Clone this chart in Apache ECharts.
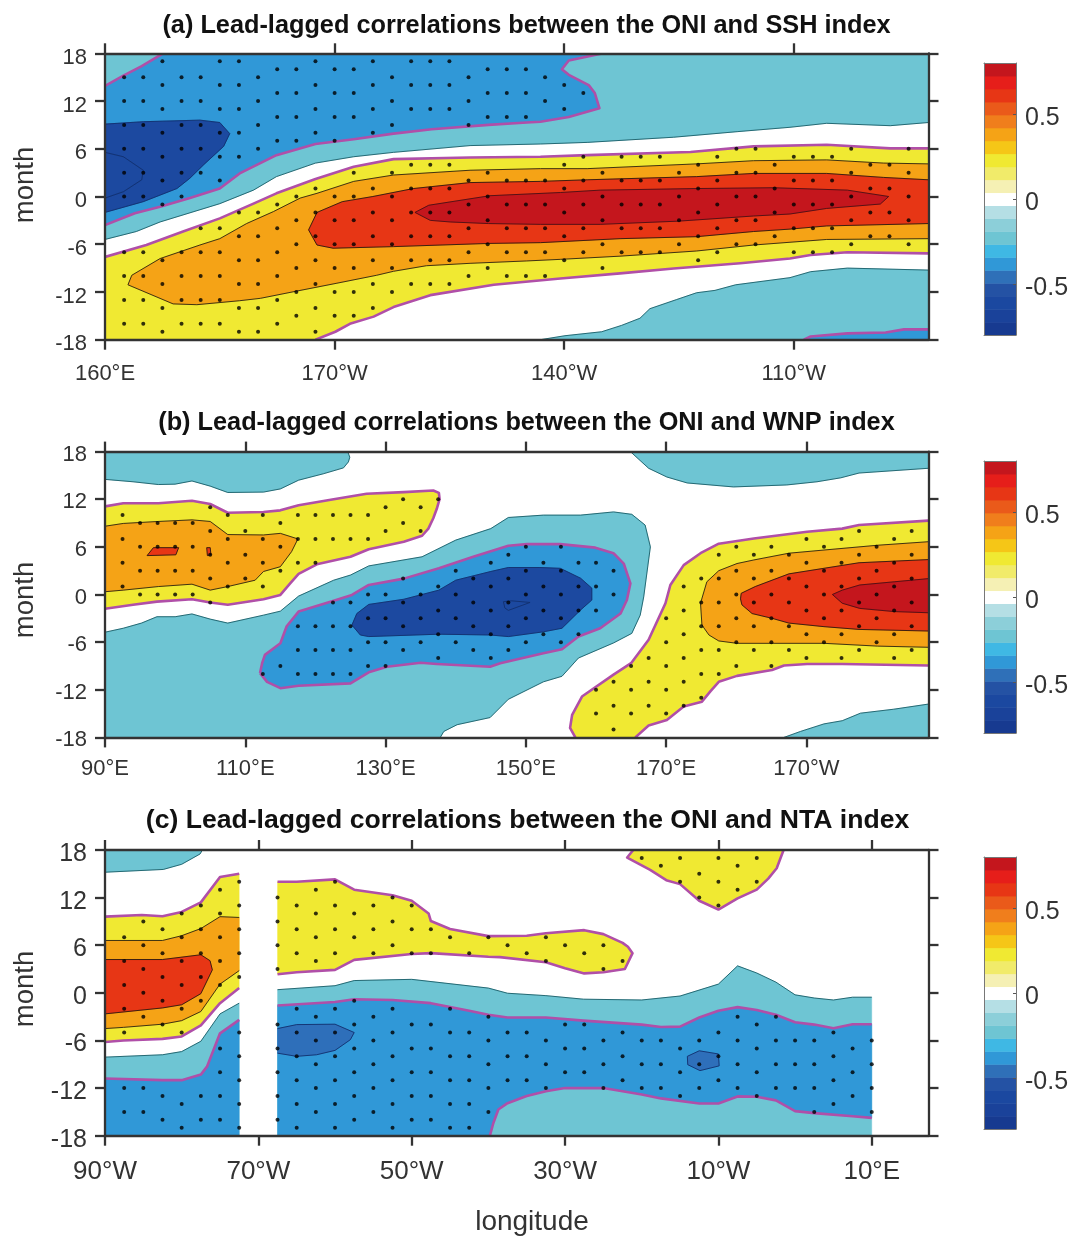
<!DOCTYPE html>
<html><head><meta charset="utf-8">
<style>html,body{margin:0;padding:0;background:#fff}#c{width:1072px;height:1236px}</style>
<script src="https://cdn.jsdelivr.net/npm/echarts@6/dist/echarts.min.js"></script>
</head><body><div id="c"></div>
<script>
// ---------- tick labels ----------
const monthTicks = [-18,-12,-6,0,6,12,18];
const lonTicksA = [160,190,220,250];
const lonLabelsA = ['160°E','170°W','140°W','110°W'];
const lonTicksB = [90,110,130,150,170,190];
const lonLabelsB = ['90°E','110°E','130°E','150°E','170°E','170°W'];
const lonTicksC = [-90,-70,-50,-30,-10,10];
const lonLabelsC = ['90°W','70°W','50°W','30°W','10°W','10°E'];
const colorbarTicks = [-0.5,0,0.5];
const titles = ['(a) Lead-lagged correlations between the ONI and SSH index','(b) Lead-lagged correlations between the ONI and WNP index','(c) Lead-lagged correlations between the ONI and NTA index'];
// contour levels of the colour bar (lower edge of each band)
const colorbarEdges = [-0.8,-0.724,-0.648,-0.571,-0.495,-0.419,-0.343,-0.267,-0.19,-0.114,-0.038,0.038,0.114,0.19,0.267,0.343,0.419,0.495,0.571,0.648,0.724,0.8];
const colorbarColors = ['#173a90','#1a429a','#1b48a0','#2452a4','#2f70b8','#3098d7','#3fb8e4','#6ec5d3','#8ccfd9','#b5dfe5','#ffffff','#f5f0b4','#f1eb6a','#f0e932','#f5c617','#f5a316','#f07e1c','#ea5a1a','#e73615','#e61e1a','#c4161d'];

// ---------- panel (a): contour outlines, [lon, month] ----------
const aTealTop = [[160,18],[267.6,18],[267.6,9.3],[262.6,8.9],[254.3,9.2],[249.5,8.7],[242.6,8.15],[234.3,7.45],[223,6.8],[216.9,6.6],[207.7,6.4],[197.7,5.55],[192.5,5],[187.5,4.2],[182.4,2.5],[179.4,0.8],[175,-0.9],[167.2,-3.2],[164.1,-4.4],[160,-5.4]];
const aTealBottom = [[216.9,-18],[220.1,-17.5],[224.9,-17],[227.5,-16.2],[229.9,-15.3],[231.2,-14.1],[234.7,-12.95],[237.3,-12.1],[239.7,-11.8],[242.4,-11.1],[249.5,-10.2],[252.2,-9.45],[257,-9],[267.6,-9.25],[267.6,-18]];
const aBlueBottom = [[251.3,-18],[252.2,-17.6],[257,-17.2],[262,-17.1],[264.4,-16.7],[267.6,-16.7],[267.6,-18]];
const aBlue = [[160,13.9],[162.4,15.2],[164.8,16.4],[167.6,18],[225.1,18],[220.6,17.1],[219.7,16],[220.6,15.3],[223.2,14],[224,13],[224.6,11.1],[220.6,10],[216.9,9.4],[215.1,9.3],[210.1,9],[202.7,8.45],[197.7,7.9],[192.5,7.2],[187.5,6.6],[182.4,5.2],[177.6,2.9],[175,1],[171.1,-0.2],[167.2,-1.3],[163.9,-2.1],[160,-3.6]];
const aDeep = [[160,9.1],[165,9.4],[172.4,9.6],[175,9.3],[176.3,7.9],[175.5,6.3],[172.9,4],[171.1,2.3],[169.4,1],[165,-0.65],[160,-2]];
const aDeeper = [[160,5.55],[162.4,5],[165,3.3],[164.8,2.1],[162.4,0.6],[160,-0.2]];
const aYellow = [[267.6,6.05],[262.6,6.05],[254.3,6.5],[244.75,6.3],[236.5,5.6],[223,5.2],[216.9,5],[207.7,4.9],[197.7,4.7],[192.5,3.75],[187.5,2.2],[182.4,0.4],[179.4,-0.9],[175,-2.75],[170.2,-4.4],[165.4,-6.1],[160,-7.6],[160,-18],[187.5,-18],[190.1,-17],[192,-16],[195.1,-15.1],[197.7,-13.9],[202.5,-12.4],[210.8,-11.1],[219.5,-10.3],[227.3,-9.66],[234.3,-9.05],[243,-8.4],[249.5,-7.8],[252.2,-7.35],[257,-7],[267.6,-7.15]];
const aOrange = [[267.6,4.1],[261.7,4.2],[254.3,4.6],[244.75,4.5],[237.3,4.1],[223,3.5],[216.9,3.5],[207.7,3.3],[197.7,2.7],[192.5,1.9],[187.7,0.4],[185.5,-0.2],[182,-1.9],[178.5,-3.4],[175,-5.3],[172.4,-6.1],[167.2,-7.8],[163.5,-9.9],[163,-11.1],[168.9,-13.5],[172,-13.6],[177.6,-13.1],[180.3,-12.8],[185,-11.9],[190.3,-10.9],[195.5,-9.9],[197.7,-9.4],[202,-8.7],[207.7,-8.4],[215.1,-8.1],[219.5,-7.9],[227.3,-7.5],[237.3,-6.85],[244.75,-6.1],[254.3,-5.4],[267.6,-5.3]];
const aRed = [[267.6,2.1],[261.7,2.4],[254.3,2.9],[244.75,2.9],[237.3,2.5],[223,2.1],[216.9,1.9],[207.7,1.75],[200.3,1],[195,0],[191,-0.65],[187.7,-2],[186.6,-4.2],[187.7,-6.1],[189.8,-6.5],[197.7,-6.3],[210.1,-5.9],[216.9,-5.8],[227.3,-5.3],[237.3,-5.05],[244.75,-4.4],[249.5,-4.1],[254.3,-3.7],[267.6,-3.4]];
const aDarkRed = [[200.5,-2],[202.3,-1.1],[210.3,0.1],[219.5,0.5],[224.7,0.8],[237.3,1],[247.4,1.1],[257,0.8],[262.4,0],[261.3,-0.95],[254.3,-1.5],[249.5,-2.2],[244.75,-2.45],[234.9,-3.1],[224.7,-3.5],[216.9,-3.5],[210.1,-3.4],[205.1,-3.2],[202.5,-3]];

// ---------- panel (b) ----------
const bTealTopLeft = [[90,18],[124.6,18],[124.9,17.3],[124.7,16.7],[124,15.95],[121.1,15.2],[117.6,14.4],[115,13.3],[112.6,12.9],[107.5,12.85],[105,13.65],[102.4,14.3],[100,13.9],[97.6,13.85],[94,14.2],[90,14.5]];
const bYellowLeft = [[90,11.1],[92.6,11.5],[97.6,11.5],[102.4,11.8],[105,11.4],[107.5,10.3],[112.6,10.4],[115,10.6],[117.6,11.25],[122.6,12],[127.3,12.7],[132.6,12.9],[136.8,13.1],[137.6,12.8],[137.7,12],[137.3,10.8],[136.8,9.6],[136.1,8.3],[135.2,7.4],[132.6,6.65],[127.6,5.7],[125,4.75],[120.2,3.8],[117.6,2.6],[116.4,1.4],[115,-0.05],[112.6,-0.6],[107.5,-1.3],[105,-1],[102.4,-0.6],[97.4,-0.9],[94,-1.3],[90,-1.8]];
const bOrangeLeft = [[90,8.6],[92.6,8.95],[97.6,9.2],[102.4,9.4],[105,9.2],[107.5,7.55],[112.6,7.5],[115,7.7],[117.5,7],[116.6,5.4],[115,3.5],[112.6,2.9],[111.4,1.8],[107.5,1],[105,0.55],[102.4,1.3],[97.6,1],[92.6,0.55],[90,0.35]];
const bRedSmall1 = [[96,4.9],[96.9,5.9],[100.5,5.9],[100.1,5]];
const bRedSmall2 = [[104.5,5.9],[105,5.9],[105.1,5],[104.6,4.9]];
const bTealMid = [[90,-4.75],[92.6,-4.25],[95.2,-3.6],[97.4,-2.8],[100,-2.8],[102.4,-2.45],[105,-3.1],[107.5,-3.6],[112.6,-2.6],[115,-2.1],[117.6,-0.2],[122.6,1.8],[125,2.45],[127.6,3.6],[135.2,4.75],[140,6.85],[145,8.3],[147.5,9.7],[152.5,10],[157.8,10],[162.5,10.4],[165.1,10.1],[167,8.75],[167.75,6],[166.8,-0.3],[166.3,-2.6],[165.1,-4.9],[162.5,-6.1],[157.5,-8],[155.15,-10.3],[152.5,-11],[147.5,-13.2],[144.9,-15.5],[140.2,-16.4],[138.3,-17.25],[137.8,-18],[90,-18]];
const bBlue = [[112.1,-9.9],[112.4,-8.65],[112.8,-7.6],[115,-6.15],[115.9,-4],[117.6,-2.15],[122.6,-0.8],[125.2,-0.05],[127.6,1.2],[132.6,2],[137.6,3.3],[142.5,4.75],[147.5,6.15],[150.15,6.35],[154.9,6.35],[159.9,5.9],[162.5,5.2],[163.95,3.9],[164.9,1.4],[164.4,-0.7],[163.5,-2.4],[160.6,-4.25],[157.5,-5.3],[155.15,-6.9],[152.5,-7.4],[146.35,-8.65],[144.9,-9.1],[137.3,-8.75],[135,-8.6],[130.2,-9.1],[127.6,-9.8],[125,-11.2],[117.6,-11.5],[115,-11.8],[113.1,-11]];
const bDeep = [[125.2,-3.85],[125.9,-2.4],[127.6,-1.25],[132.6,-0.6],[137.6,0.55],[140,1.8],[145,2.9],[147.5,3.4],[152,3.4],[154.9,3.3],[157.8,2.05],[159.4,0.8],[159.4,-0.7],[157.8,-1.95],[155.15,-4.25],[152.5,-4.7],[147.5,-5.3],[144.9,-5.1],[137.6,-5],[127.6,-5.3],[126.4,-5.1]];
const bDeeper = [[146.8,-0.9],[148,-0.8],[150.6,-1],[147.5,-2],[147,-1.7]];
const bTealTopRight = [[164.9,18],[167.5,15.9],[170.1,14.8],[173,14.05],[179.6,13.55],[187.2,13.8],[191.5,14.2],[194.9,14.7],[197.5,15.3],[207.4,15.9],[207.4,18]];
const bYellowRight = [[157.05,-18],[156.3,-16.8],[156.6,-15.15],[158,-12.85],[162.5,-10.1],[165,-8.65],[167.5,-5.7],[169.9,-1.1],[170.6,1.2],[172.5,3.7],[174.9,5.2],[177.5,6.4],[182.5,7.05],[190.1,7.9],[195.1,8.3],[197.5,8.75],[207.4,9.3],[207.4,-8.95],[195.1,-8.75],[190.1,-8.75],[186.8,-8.95],[185.1,-9.5],[180.1,-10.25],[177.5,-11],[176.3,-12.2],[175.1,-13.5],[172.5,-14.1],[170.1,-15.8],[167.5,-16.5],[165.6,-18]];
const bOrangeRight = [[177.5,3],[175.8,1.6],[174.9,-1.1],[175.1,-3.85],[176.1,-5.1],[177.5,-5.85],[180.1,-6.15],[192.5,-6.15],[200.1,-6.5],[207.4,-6.65],[207.4,6.65],[200.1,6.2],[192.5,5.6],[187.5,5.2],[182.5,4.35],[180.1,3.9]];
const bRedRight = [[180.6,-0.55],[180.7,0.15],[182.7,1],[187.5,2.6],[192.5,3.3],[197.5,4],[207.4,4.4],[207.4,-4.6],[197.5,-4.4],[192.5,-4.05],[187.5,-3.6],[185.1,-3],[182.25,-2.4],[180.8,-1.3]];
const bDarkRedRight = [[193.7,0],[195.1,0.55],[197.6,1.2],[202.5,1.6],[207.4,2],[207.4,-2.3],[202.5,-2.15],[197.6,-1.75],[195.1,-1.1]];
const bTealBottomRight = [[186.8,-18],[189.15,-17.25],[192.5,-16.3],[195.1,-15.9],[197.7,-14.95],[202.45,-14.45],[207.4,-13.8],[207.4,-18]];

// ---------- panel (c) ----------
const cTealTop = [[-90,18],[-77.3,18],[-77.6,17.5],[-80,16.2],[-82.4,15.55],[-90,15.2]];
const cYellowLeft = [[-90,9.6],[-85.2,9.8],[-82.5,9.65],[-80,10.2],[-77.5,11.4],[-75,14.6],[-72.5,15],[-72.5,0.6],[-75,-1.3],[-77.5,-4.1],[-80,-5.5],[-82.5,-5.8],[-87.6,-6],[-90,-6.2]];
const cOrangeLeft = [[-90,6.6],[-82.5,6.6],[-80,7.2],[-77.5,8.1],[-75,9.6],[-72.5,9.5],[-72.5,2.8],[-75,1.1],[-77.5,-2.35],[-80,-3.5],[-82.5,-3.95],[-87.6,-4.35],[-90,-4.5]];
const cRedLeft = [[-90,4.2],[-87.6,4.2],[-82.5,4.2],[-77.5,4.8],[-76.3,4.05],[-76,2.9],[-77.5,-0.1],[-80,-1.5],[-82.5,-1.9],[-90,-2.65]];
const cTealLeft = [[-90,-8.1],[-82.5,-7.8],[-80,-7.4],[-77.5,-6.1],[-75,-2.65],[-72.5,-1.3],[-72.5,-18],[-90,-18]];
const cBlueLeft = [[-90,-10.8],[-82.5,-11],[-80,-11],[-77.5,-10.3],[-76.7,-9.3],[-75,-5.1],[-72.5,-3.4],[-72.5,-18],[-90,-18]];
const cYellowMid = [[-67.5,14],[-65,14],[-60,14.3],[-57.5,13],[-52.5,12.3],[-50,11.6],[-47.8,10],[-47.5,9.05],[-45,8.05],[-40,7.15],[-35,7.2],[-32.5,7.5],[-27.5,7.9],[-25,7.4],[-22.5,6.3],[-21.8,5.8],[-21.2,5],[-22.2,3],[-25,2.6],[-27.5,2.45],[-30,3.1],[-32.5,3.85],[-38.5,4.5],[-40,4.55],[-47.5,5],[-50,4.9],[-57.5,4.15],[-60,2.9],[-65,2.6],[-67.5,2.35]];
const cTealRight = [[-67.5,0.4],[-60,0.9],[-57.5,1.55],[-50,1.7],[-40,0.6],[-37.5,-0.05],[-32.5,-0.35],[-27.6,-0.8],[-20,-0.9],[-15,-0.4],[-10,1.1],[-7.5,3.4],[-5,2.5],[-2.5,1.35],[0,-0.25],[2.5,-0.65],[5,-0.9],[7.5,-0.55],[10,-0.55],[10,-18],[-67.5,-18]];
const cBlueRight = [[-67.5,-1.6],[-60,-1.15],[-57.5,-0.8],[-52.5,-0.9],[-47.5,-1.3],[-42.5,-2.25],[-40,-2.75],[-37.5,-3.1],[-32.5,-3.1],[-27.6,-3.5],[-20,-4],[-17.5,-4.3],[-15,-4.25],[-12.5,-3.1],[-10,-2.25],[-7.5,-1.8],[-5,-2.15],[-2.5,-2.75],[0,-3.7],[2.5,-4],[5,-4.45],[7.5,-3.95],[10,-3.95],[10,-15.75],[7.5,-15.55],[2.5,-15.15],[0,-14.9],[-2.5,-13.55],[-5,-13.1],[-7.5,-13.05],[-10,-13.95],[-12.5,-13.95],[-17.5,-13.3],[-20,-12.8],[-25,-12],[-27.6,-12],[-30,-12],[-32.5,-12.4],[-35,-13],[-37.5,-13.9],[-38.7,-14.7],[-39.35,-16.4],[-39.8,-18],[-67.5,-18]];
const cMidBlue1 = [[-67.5,-4.5],[-65,-4],[-60,-3.95],[-57.5,-5],[-58,-5.9],[-60,-7.25],[-62.4,-7.8],[-65,-8],[-67.5,-7.6]];
const cMidBlue2 = [[-14.05,-8],[-12.5,-7.3],[-10,-7.7],[-9.9,-9.2],[-12.4,-9.8],[-14,-9.05]];
const cYellowTop = [[-21.1,18],[-21.9,17.05],[-18.9,15.5],[-16.8,14.2],[-15,13.7],[-12.5,11.6],[-10,10.5],[-7.5,11.9],[-5,13],[-3.5,14.4],[-2.4,15.7],[-1.5,18]];

// ---------- significance stippling: [lon, [months]] ----------
const stippleA = [[162.5,[15,12,9,6,3,0,-7,-10,-13,-16]],[165,[15,12,9,6,3,0,-7,-10,-13,-16]],[167.5,[17,14,11,8,5,2,-1,-8,-11,-14,-17]],[170,[15,12,9,6,3,0,-7,-10,-13,-16]],[172.5,[15,12,9,6,3,-4,-7,-10,-13,-16]],[175,[17,14,11,8,5,2,-4,-7,-10,-13,-16]],[177.5,[17,14,11,8,5,-2,-5,-8,-11,-14,-17]],[180,[15,12,9,6,-2,-5,-8,-11,-14,-17]],[182.5,[16,13,10,7,-1,-4,-7,-10,-13,-16]],[185,[16,13,10,7,0,-3,-6,-9,-12,-15]],[187.5,[17,14,11,8,1,-2,-5,-8,-11,-14,-17]],[190,[16,13,10,7,0,-3,-6,-9,-12,-15]],[192.5,[16,13,10,3,0,-3,-6,-9,-12,-15]],[195,[17,14,11,8,1,-2,-5,-8,-11,-14]],[197.5,[15,12,9,3,0,-3,-6,-9,-12]],[200,[17,14,11,4,1,-2,-5,-8,-11]],[202.5,[17,14,11,4,1,-2,-5,-8,-11]],[205,[17,14,11,4,1,-2,-5,-8,-11]],[207.5,[15,12,9,2,-1,-4,-7,-10]],[210,[16,13,10,3,0,-3,-6,-9]],[212.5,[16,13,10,2,-1,-4,-7,-10]],[215,[16,13,10,2,-1,-4,-7,-10]],[217.5,[15,12,2,-1,-4,-7,-10]],[220,[14,11,4,1,-2,-5,-8]],[222.5,[13,5,2,-1,-4,-7]],[225,[3,0,-3,-6,-9]],[227.5,[5,2,-1,-4,-7]],[230,[5,2,-1,-4,-7]],[232.5,[5,2,-1,-4,-7]],[235,[3,0,-3,-6]],[237.5,[4,1,-2,-5,-8]],[240,[5,2,-1,-4,-7]],[242.5,[6,3,0,-3,-6]],[245,[6,3,0,-3,-6]],[247.5,[4,1,-2,-5]],[250,[5,2,-1,-4,-7]],[252.5,[5,2,-1,-4,-7]],[255,[5,2,-1,-4,-7]],[257.5,[6,3,0,-3,-6]],[260,[4,1,-2,-5]],[262.5,[4,1,-2,-5]],[265,[6,3,0,-3,-6]]];
const stippleB = [[92.5,[10,7,4,1]],[95,[9,6,3,0]],[97.5,[9,6,3,0]],[100,[9,6,3,0]],[102.5,[9,6,3,0]],[105,[11,8,5,2,-1]],[107.5,[10,7,4,1]],[110,[8,5,2]],[112.5,[10,7,4,1,-10]],[115,[9,6,3,-9]],[117.5,[10,7,4,-4,-7,-10]],[120,[10,7,4,-4,-7,-10]],[122.5,[10,7,-1,-4,-7,-10]],[125,[10,7,-1,-4,-7,-10]],[127.5,[10,7,0,-3,-6,-9]],[130,[11,8,0,-3,-6,-9]],[132.5,[12,9,2,-1,-4,-7]],[135,[11,8,0,-3,-6]],[137.5,[12,1,-2,-5,-8]],[140,[3,0,-3,-6]],[142.5,[2,-1,-4,-7]],[145,[4,1,-2,-5,-8]],[147.5,[5,2,-1,-4,-7]],[150,[6,3,0,-3,-6]],[152.5,[4,1,-2,-5]],[155,[6,3,0,-3,-6]],[157.5,[4,1,-2,-5]],[160,[4,1,-2,-12,-15]],[162.5,[3,0,-11,-14,-17]],[165,[-9,-12,-15]],[167.5,[-8,-11,-14]],[170,[-3,-6,-9,-12,-15]],[172.5,[1,-2,-5,-8,-11,-14]],[175,[2,-1,-4,-7,-10,-13]],[177.5,[5,2,-1,-4,-7,-10]],[180,[6,3,0,-3,-6,-9]],[182.5,[5,2,-1,-4,-7]],[185,[6,3,0,-3,-6,-9]],[187.5,[5,2,-1,-4,-7]],[190,[7,4,1,-2,-5,-8]],[192.5,[6,3,0,-3,-6]],[195,[7,4,1,-2,-5,-8]],[197.5,[8,5,2,-1,-4,-7]],[200,[6,3,0,-3,-6]],[202.5,[7,4,1,-2,-5,-8]],[205,[8,5,2,-1,-4,-7]]];
const stippleC = [[-87.5,[7,4,1,-2,-5,-12,-15]],[-85,[9,6,3,0,-3,-12,-15]],[-82.5,[8,5,2,-1,-4,-13,-16]],[-80,[10,7,4,1,-2,-5,-14,-17]],[-77.5,[11,8,5,2,-1,-13,-16]],[-75,[13,10,7,4,1,-7,-10,-13,-16]],[-72.5,[14,11,8,5,2,-5,-8,-11,-14,-17]],[-67.5,[12,9,6,3,-4,-7,-10,-13,-16]],[-65,[11,8,5,-2,-5,-8,-11,-14,-17]],[-62.5,[13,10,7,4,-3,-6,-9,-12,-15]],[-60,[14,11,8,5,-2,-5,-8,-11,-14,-17]],[-57.5,[10,7,-1,-4,-7,-10,-13,-16]],[-55,[11,8,5,-3,-6,-9,-12,-15]],[-52.5,[12,9,6,-2,-5,-8,-11,-14,-17]],[-50,[11,8,5,-4,-7,-10,-13,-16]],[-47.5,[8,5,-4,-7,-10,-13,-16]],[-45,[7,-2,-5,-8,-11,-14,-17]],[-42.5,[5,-5,-8,-11,-14,-17]],[-40,[7,-3,-6,-9,-12,-15]],[-37.5,[6,-5,-8,-11]],[-35,[5,-5,-8,-11]],[-32.5,[7,4,-6,-9,-12]],[-30,[6,-4,-7,-10]],[-27.5,[5,-4,-7,-10]],[-25,[6,3,-6,-9,-12]],[-22.5,[4,-5,-8,-11]],[-20,[17,-6,-9,-12]],[-17.5,[16,-6,-9,-12]],[-15,[17,14,-7,-10,-13]],[-12.5,[15,12,-6,-9,-12]],[-10,[17,14,11,-5,-8,-11]],[-7.5,[16,13,-3,-6,-9,-12]],[-5,[17,14,-4,-7,-10,-13]],[-2.5,[-3,-6,-9,-12]],[0,[-6,-9,-12]],[2.5,[-6,-9,-12,-15]],[5,[-5,-8,-11,-14]],[7.5,[-7,-10,-13]],[10,[-6,-9,-12,-15]]];

// ---------- styling (kept apart from the data) ----------
const FILL = {teal:'#6ec5d3',blue:'#3098d7',mid:'#2e6fba',deep:'#1c49a0',yellow:'#f0e932',orange:'#f5a316',red:'#e73615',dark:'#c4161d'};
const THIN_BY_FILL = {teal:'#175c66',mid:'#12306e',deep:'#12306e',orange:'#2a2410',red:'#2a1a10',dark:'#4a1015'};
const PURPLE = '#b04fa8', INK = '#333333';
const FONT = '"Liberation Sans", Arial, sans-serif';

const panels = [
 {top:53.3,h:286.4,xmin:160,xmax:267.6,ticks:lonTicksA,labels:lonLabelsA,labelSize:22,labelMargin:23,ySize:22,yLine:9,cbTop:63,monthY:185,title:titles[0],titleTop:8.5,titleSize:25.3,titleX:521.5,stipple:stippleA,cuts:[],
  layers:[[aTealTop,'teal',0],[aTealBottom,'teal',0],[aBlueBottom,'blue',1],[aBlue,'blue',1],[aDeep,'deep',0],[aDeeper,'deep',0],[aYellow,'yellow',1],[aOrange,'orange',0],[aRed,'red',0],[aDarkRed,'dark',0]]},
 {top:451.6,h:285.8,xmin:90,xmax:207.4,ticks:lonTicksB,labels:lonLabelsB,labelSize:22,labelMargin:21,ySize:22,yLine:6,cbTop:461,monthY:600,title:titles[1],titleTop:405.4,titleSize:25.3,titleX:521.5,stipple:stippleB,cuts:[],
  layers:[[bTealTopLeft,'teal',0],[bTealMid,'teal',0],[bTealTopRight,'teal',0],[bTealBottomRight,'teal',0],[bBlue,'blue',1],[bDeep,'deep',0],[bDeeper,'deep',0],[bYellowLeft,'yellow',1],[bOrangeLeft,'orange',0],[bRedSmall1,'red',0],[bRedSmall2,'red',0],[bYellowRight,'yellow',1],[bOrangeRight,'orange',0],[bRedRight,'red',0],[bDarkRedRight,'dark',0]]},
 {top:850,h:285.7,xmin:-90,xmax:17.4,ticks:lonTicksC,labels:lonLabelsC,labelSize:26,labelMargin:23,ySize:25,yLine:8,cbTop:857,monthY:989,title:titles[2],titleTop:801.7,titleSize:26.6,titleX:522.5,stipple:stippleC,cuts:[-72.5,-67.5,10],
  layers:[[cTealTop,'teal',0],[cTealLeft,'teal',0],[cBlueLeft,'blue',1],[cYellowLeft,'yellow',1],[cOrangeLeft,'orange',0],[cRedLeft,'red',0],[cTealRight,'teal',0],[cBlueRight,'blue',1],[cMidBlue1,'mid',0],[cMidBlue2,'mid',0],[cYellowMid,'yellow',1],[cYellowTop,'yellow',1]]}
];

const LEFT = 105, WIDTH = 823.5;
const grid=[], xAxis=[], yAxis=[], series=[], title=[], graphic=[];
const axisCommon = {z:6, axisLine:{show:true,onZero:false,lineStyle:{color:INK,width:2.3}}, axisTick:{show:true,inside:false,length:10,lineStyle:{color:INK,width:2.3}}, splitLine:{show:false}, minorTick:{show:false}};

panels.forEach((p,pi)=>{
  const g = grid.length;
  grid.push({left:LEFT,top:p.top,width:WIDTH,height:p.h,containLabel:false});
  const labelFmt = v => { const i=p.ticks.indexOf(v); return i<0?'':p.labels[i]; };
  const xi = xAxis.length, yi = yAxis.length;
  xAxis.push({...axisCommon,gridIndex:g,type:'value',position:'bottom',min:p.xmin,max:p.xmax,
    axisTick:{...axisCommon.axisTick,customValues:p.ticks},
    axisLabel:{customValues:p.ticks,formatter:labelFmt,color:INK,fontFamily:FONT,fontSize:p.labelSize,margin:p.labelMargin,hideOverlap:false,showMinLabel:true,showMaxLabel:true}});
  xAxis.push({...axisCommon,gridIndex:g,type:'value',position:'top',min:p.xmin,max:p.xmax,
    axisTick:{...axisCommon.axisTick,customValues:p.ticks},axisLabel:{show:false}});
  yAxis.push({...axisCommon,gridIndex:g,type:'value',position:'left',min:-18,max:18,interval:6,
    axisTick:{...axisCommon.axisTick,customValues:monthTicks},
    axisLabel:{customValues:monthTicks,color:INK,fontFamily:FONT,fontSize:p.ySize,margin:18,verticalAlign:'top',lineHeight:p.yLine}});
  yAxis.push({...axisCommon,gridIndex:g,type:'value',position:'right',min:-18,max:18,interval:6,
    axisTick:{...axisCommon.axisTick,customValues:monthTicks},axisLabel:{show:false}});

  const isCut = (a,b)=>{
    if (a[1]===b[1] && Math.abs(a[1])===18) return true;
    if (a[0]===b[0] && (a[0]===p.xmin||a[0]===p.xmax||p.cuts.includes(a[0]))) return true;
    return false;
  };
  series.push({type:'custom',xAxisIndex:xi,yAxisIndex:yi,coordinateSystem:'cartesian2d',silent:true,z:3,clip:true,animation:false,
    data:p.layers.map((l,i)=>[l[0][0][0],l[0][0][1],i]),
    encode:{x:0,y:1},
    renderItem:(params,api)=>{
      const l = p.layers[api.value(2)];
      const pts = l[0].map(q=>api.coord(q));
      const children=[{type:'polygon',shape:{points:pts},style:{fill:FILL[l[1]],stroke:FILL[l[1]],lineWidth:0.4}}];
      let run=[];
      const flush=()=>{ if(run.length>1) children.push({type:'polyline',shape:{points:run},style:{fill:null,stroke:l[2]?PURPLE:(THIN_BY_FILL[l[1]]||'#222'),lineWidth:l[2]?2.6:0.9,lineJoin:'round'}}); run=[]; };
      const n=l[0].length;
      for(let i=0;i<n;i++){
        const j=(i+1)%n;
        if(isCut(l[0][i],l[0][j])){flush();continue;}
        if(!run.length) run.push(pts[i]);
        run.push(pts[j]);
      }
      flush();
      return {type:'group',children};
    }});
  const dots=[];
  p.stipple.forEach(c=>c[1].forEach(m=>dots.push([c[0],m])));
  series.push({type:'scatter',xAxisIndex:xi,yAxisIndex:yi,silent:true,z:4,animation:false,symbol:'circle',symbolSize:4,itemStyle:{color:'#000'},data:dots});

  title.push({text:p.title,left:p.titleX,top:p.titleTop,textAlign:'center',textStyle:{fontFamily:FONT,fontWeight:'bold',fontSize:p.titleSize,color:'#111'}});
  graphic.push({type:'text',x:25,y:p.monthY,rotation:Math.PI/2,z:10,style:{text:'month',fontFamily:FONT,fontSize:27.5,fill:INK,align:'center',verticalAlign:'middle'}});

  // colour bar
  const cg = grid.length;
  grid.push({left:984,top:p.cbTop,width:32,height:272});
  const thin = {lineStyle:{color:'#777',width:1}};
  const cx = xAxis.length, cy = yAxis.length;
  ['bottom','top'].forEach(pos=>xAxis.push({gridIndex:cg,type:'value',position:pos,min:0,max:1,z:6,axisLine:{show:true,onZero:false,...thin},axisTick:{show:false},axisLabel:{show:false},splitLine:{show:false}}));
  yAxis.push({gridIndex:cg,type:'value',position:'right',min:-0.8,max:0.8,z:6,axisLine:{show:true,onZero:false,...thin},
    axisTick:{show:true,inside:true,length:3,customValues:colorbarTicks,lineStyle:{color:'#555',width:1}},splitLine:{show:false},
    axisLabel:{customValues:colorbarTicks,formatter:v=>String(v),color:INK,fontFamily:FONT,fontSize:25,margin:9,verticalAlign:'top',lineHeight:8}});
  yAxis.push({gridIndex:cg,type:'value',position:'left',min:-0.8,max:0.8,z:6,axisLine:{show:true,onZero:false,...thin},axisTick:{show:false},axisLabel:{show:false},splitLine:{show:false}});
  series.push({type:'custom',xAxisIndex:cx,yAxisIndex:cy,silent:true,z:3,animation:false,
    data:colorbarColors.map((c,i)=>[0,colorbarEdges[i],colorbarEdges[i+1],i]),
    encode:{x:0,y:[1,2]},
    renderItem:(params,api)=>{
      const a=api.coord([0,api.value(1)]), b=api.coord([1,api.value(2)]);
      return {type:'rect',shape:{x:a[0],y:b[1],width:b[0]-a[0],height:a[1]-b[1]+0.5},style:{fill:colorbarColors[api.value(3)]}};
    }});
});
graphic.push({type:'text',x:532,y:1222,z:10,style:{text:'longitude',fontFamily:FONT,fontSize:28,fill:INK,align:'center',verticalAlign:'middle'}});

const chart = echarts.init(document.getElementById('c'),null,{renderer:'canvas'});
chart.setOption({animation:false,backgroundColor:'#fff',title,grid,xAxis,yAxis,series,graphic});
</script></body></html>
